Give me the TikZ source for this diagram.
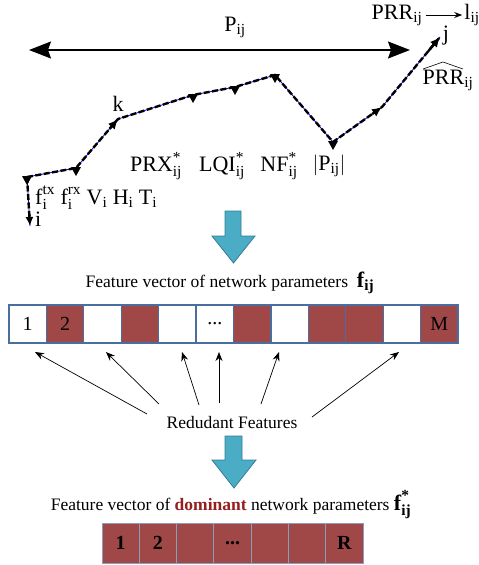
\documentclass[tikz,border=0pt]{standalone}
\usepackage{amsmath}
\usepackage{fontspec}
\setmainfont{Liberation Serif}
\usepackage{xcolor}
\usetikzlibrary{arrows.meta,calc}

\definecolor{brick}{RGB}{160,72,72}
\definecolor{domred}{RGB}{150,30,30}
\definecolor{boxedge}{RGB}{74,110,160}
\definecolor{paleedge}{RGB}{140,156,190}
\definecolor{aqua}{RGB}{75,172,198}
\definecolor{aquaedge}{RGB}{52,125,150}
\newcommand{\sbs}[1]{\textsubscript{#1}}

\tikzset{
  txt/.style={font=\fontsize{17.5}{20}\selectfont, inner sep=0pt},
  lbl/.style={font=\fontsize{22}{24}\selectfont, inner sep=0pt},
  celltxt/.style={font=\fontsize{20}{22}\selectfont, inner sep=0pt},
  boldcell/.style={font=\fontsize{20}{22}\selectfont\bfseries, inner sep=0pt},
  hop/.style={line width=2.4pt, dash pattern=on 6pt off 2.5pt},
  hopline/.style={blue, line width=0.8pt},
  hoptip/.style={line width=2.4pt, -{Latex[length=10pt,width=9pt]}},
  cell/.style={draw=boxedge, line width=1.3pt, minimum width=37.42pt, minimum height=38pt, inner sep=0pt},
  dcell/.style={draw=paleedge, fill=brick, line width=1pt, minimum width=37.3pt, minimum height=40pt, inner sep=0pt},
  blockarrow/.style={fill=aqua, draw=aquaedge, line width=0.8pt},
  thinarr/.style={line width=0.7pt, -{Stealth[length=9pt,width=7pt]}}
}

\begin{document}
\begin{tikzpicture}[x=1pt,y=-1pt]
\useasboundingbox (0,0) rectangle (479,565);

% route from i to j
\foreach \n/\px/\py in {0/27/177,1/76/168,2/118/119,3/193/95,4/235/87,5/275/75,6/333/142,7/382/107,8/440/37}
  \coordinate (v\n) at (\px,\py);
\coordinate (iend) at (30,226);
\draw[hopline] (iend) -- (v0) -- (v1) -- (v2) -- (v3) -- (v4) -- (v5) -- (v6) -- (v7) -- (v8);
\draw[hop] (v0) -- (v1) -- (v2) -- (v3) -- (v4) -- (v5) -- (v6) -- (v7) -- (v8);
\draw[hop] (v0) -- ($(v0)!0.8!(iend)$);
\draw[line width=2.4pt,-{Latex[length=9pt,width=8pt]}] ($(v0)!0.75!(iend)$) -- (iend);
\foreach \a/\b in {1/2,6/7,7/8}
  \draw[hoptip] ($(v\a)!0.8!(v\b)$) -- (v\b);
\foreach \n in {0,1,3,4,5,6}
  \fill (v\n) ++(-5,-1) -- ++(10,0) -- ++(-5,9) -- cycle;

% path length arrow
\coordinate (pl) at (29,50);
\coordinate (pr) at (410,50);
\draw[line width=1.6pt, {Stealth[length=22pt,width=17pt,inset=3pt]}-{Stealth[length=22pt,width=17pt,inset=3pt]}] (pl) -- (pr);
\node[lbl] (pij) at (235,27) {P\sbs{ij}};

% labels along the route
\node[lbl] (prr) at (397,15) {PRR\sbs{ij}};
\node[lbl] (lij) at (472,15) {l\sbs{ij}};
\draw[line width=0.9pt, shorten <=3pt, shorten >=2pt, -{Stealth[length=8pt,width=6pt]}] (prr) -- (lij);
\node[lbl] (jlbl) at (446,36) {j};
\node[lbl] (prrhat) at (448,80) {PRR\sbs{ij}};
\draw[line width=0.6pt] (423,69) -- (443,62) -- (463,69);
\node[lbl] (klbl) at (118,104) {k};
\node[lbl] (prx) at (156,166) {$\text{PRX}^{\text{*}}_{\text{ij}}$};
\node[lbl] (lqi) at (222,166) {$\text{LQI}^{\text{*}}_{\text{ij}}$};
\node[lbl] (nf) at (279,166) {$\text{NF}^{\text{*}}_{\text{ij}}$};
\node[lbl] (plen) at (329,166) {$|\text{P}_{\text{ij}}|$};
\node[lbl, anchor=west] (fvec) at (35,198) {$\text{f}_{\text{i}}^{\text{tx}}$ $\text{f}_{\text{i}}^{\text{rx}}$ V\sbs{i} H\sbs{i} T\sbs{i}};
\node[lbl, anchor=west] (ilbl) at (35,219) {i};

% first block arrow
\filldraw[blockarrow] (225,211) -- (241,211) -- (241,236) -- (255,236) -- (233.5,263) -- (212,236) -- (225,236) -- cycle;

% full feature vector
\node[txt] (fv) at (230,283) {Feature vector of network parameters\ \ {\fontsize{22}{24}\selectfont\textbf{f}\textsubscript{\textbf{ij}}}};
\foreach \c [count=\n from 0] in {white,brick,white,brick,white,white,brick,white,brick,brick,white,brick}
  \node[cell, fill=\c] (c\n) at (9+18.71+37.42*\n,324) {};
\node[celltxt] at (c0) {1};
\node[celltxt] at (c1) {2};
\node[celltxt] at (c5) {...};
\node[celltxt] at (c11) {M};

% redundant features
\node[txt] (rf) at (232,423) {Redudant Features};
\foreach \sx/\sy/\tx in {147/414/35, 159/404/106, 199/405/182, 219/403/219, 261/404/279, 312/417/399}
  \draw[thinarr] (\sx,\sy) -- (\tx,352);

% second block arrow
\filldraw[blockarrow] (225,436) -- (242,436) -- (242,460) -- (256,460) -- (234,488) -- (212,460) -- (225,460) -- cycle;

% dominant feature vector
\node[txt] (fvdom) at (231,505) {Feature vector of \textcolor{domred}{\textbf{dominant}} network parameters {\fontsize{22}{24}\selectfont$\textbf{f}^{\textbf{*}}_{\textbf{ij}}$}};
\foreach \n in {0,...,6}
  \node[dcell] (d\n) at (102+18.65+37.3*\n,543) {};
\node[boldcell] at (d0) {1};
\node[boldcell] at (d1) {2};
\node[boldcell] at (d3) {...};
\node[boldcell] at (d6) {R};
\end{tikzpicture}
\end{document}
